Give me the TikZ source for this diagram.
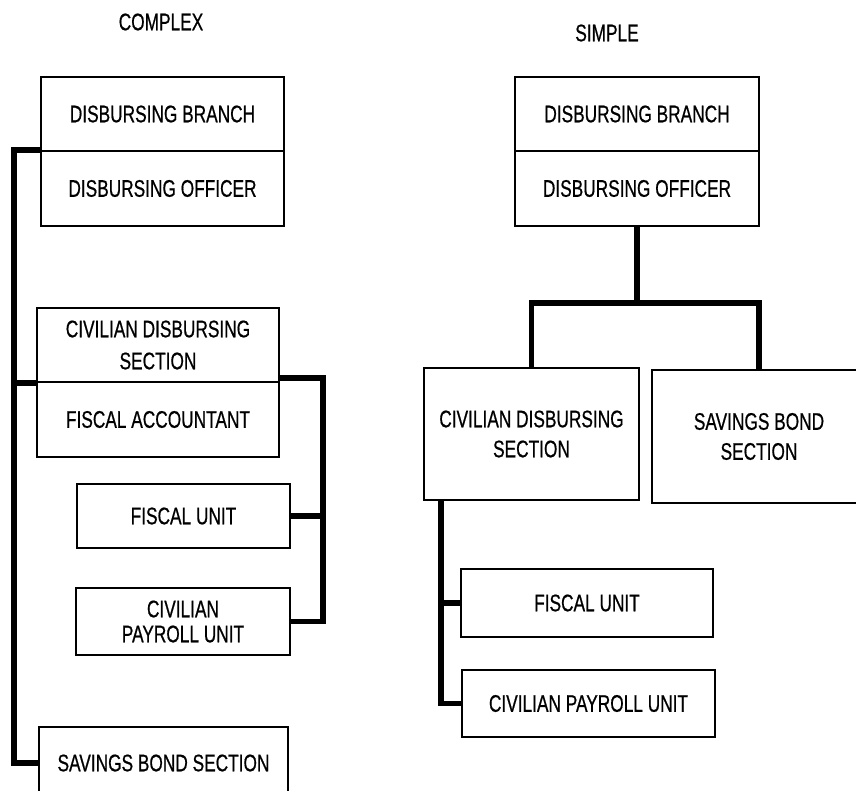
\documentclass[tikz,border=0pt]{standalone}
\usepackage{fontspec}
\setmainfont{Liberation Sans}[FakeStretch=0.72,FakeBold=0.6]
\begin{document}
\begin{tikzpicture}[x=1pt,y=-1pt,
  bx/.style={draw, line width=2pt, rectangle, inner sep=0pt, align=center,
    font=\fontsize{24}{30}\selectfont},
  conn/.style={line width=5.5pt, line join=miter},
  ttl/.style={font=\fontsize{24}{28}\selectfont}]
\clip (0,0) rectangle (856,790);
% titles
\node[ttl] (tc) at (161,22) {COMPLEX};
\node[ttl] (ts) at (607,33) {SIMPLE};
% ---- COMPLEX ----
\node[bx, minimum width=243pt, minimum height=74pt] (lDB) at (162.5,114) {DISBURSING BRANCH};
\node[bx, minimum width=243pt, minimum height=75pt] (lDO) at (162.5,188.5) {DISBURSING OFFICER};
\node[bx, minimum width=242pt, minimum height=74pt, font=\fontsize{24}{32}\selectfont] (lCS) at (158,345) {CIVILIAN DISBURSING\\SECTION};
\node[bx, minimum width=242pt, minimum height=75pt] (lFA) at (158,419.5) {FISCAL ACCOUNTANT};
\node[bx, minimum width=213pt, minimum height=64pt] (lFU) at (183.5,516) {FISCAL UNIT};
\node[bx, minimum width=214pt, minimum height=67pt, font=\fontsize{24}{25}\selectfont] (lPU) at (183,621.5) {CIVILIAN\\PAYROLL UNIT};
\node[bx, minimum width=249pt, minimum height=72pt] (lSB) at (163.5,763) {SAVINGS BOND SECTION};
\coordinate (lbus) at (14,0);
\coordinate (rbus) at (323,0);
\draw[conn] ([yshift=2pt]lDB.south west) -| (lbus |- lSB.west) -- (lSB.west);
\draw[conn] (lbus |- lCS.south west) -- (lCS.south west);
\draw[conn] ([yshift=5pt]lCS.south east) -| (rbus |- lPU.east) -- (lPU.east);
\draw[conn] (lFU.east) -- (rbus |- lFU.east);
% ---- SIMPLE ----
\node[bx, minimum width=244pt, minimum height=74pt] (rDB) at (637,114) {DISBURSING BRANCH};
\node[bx, minimum width=244pt, minimum height=75pt] (rDO) at (637,188.5) {DISBURSING OFFICER};
\node[bx, minimum width=215pt, minimum height=132pt] (rCS) at (531.5,434) {CIVILIAN DISBURSING\\SECTION};
\node[bx, minimum width=214pt, minimum height=133pt] (rSB) at (759,436.5) {SAVINGS BOND\\SECTION};
\node[bx, minimum width=252pt, minimum height=68pt] (rFU) at (587,603) {FISCAL UNIT};
\node[bx, minimum width=253pt, minimum height=67pt] (rPU) at (588.5,703.5) {CIVILIAN PAYROLL UNIT};
\coordinate (rj) at (637,303);
\coordinate (sbus) at (441,0);
\draw[conn] (rDO.south) -- (rj);
\draw[conn] (rCS.north) |- (rSB.north |- rj) -- (rSB.north);
\draw[conn] (sbus |- rCS.south) |- (rPU.west);
\draw[conn] (sbus |- rFU.west) -- (rFU.west);
\end{tikzpicture}
\end{document}
